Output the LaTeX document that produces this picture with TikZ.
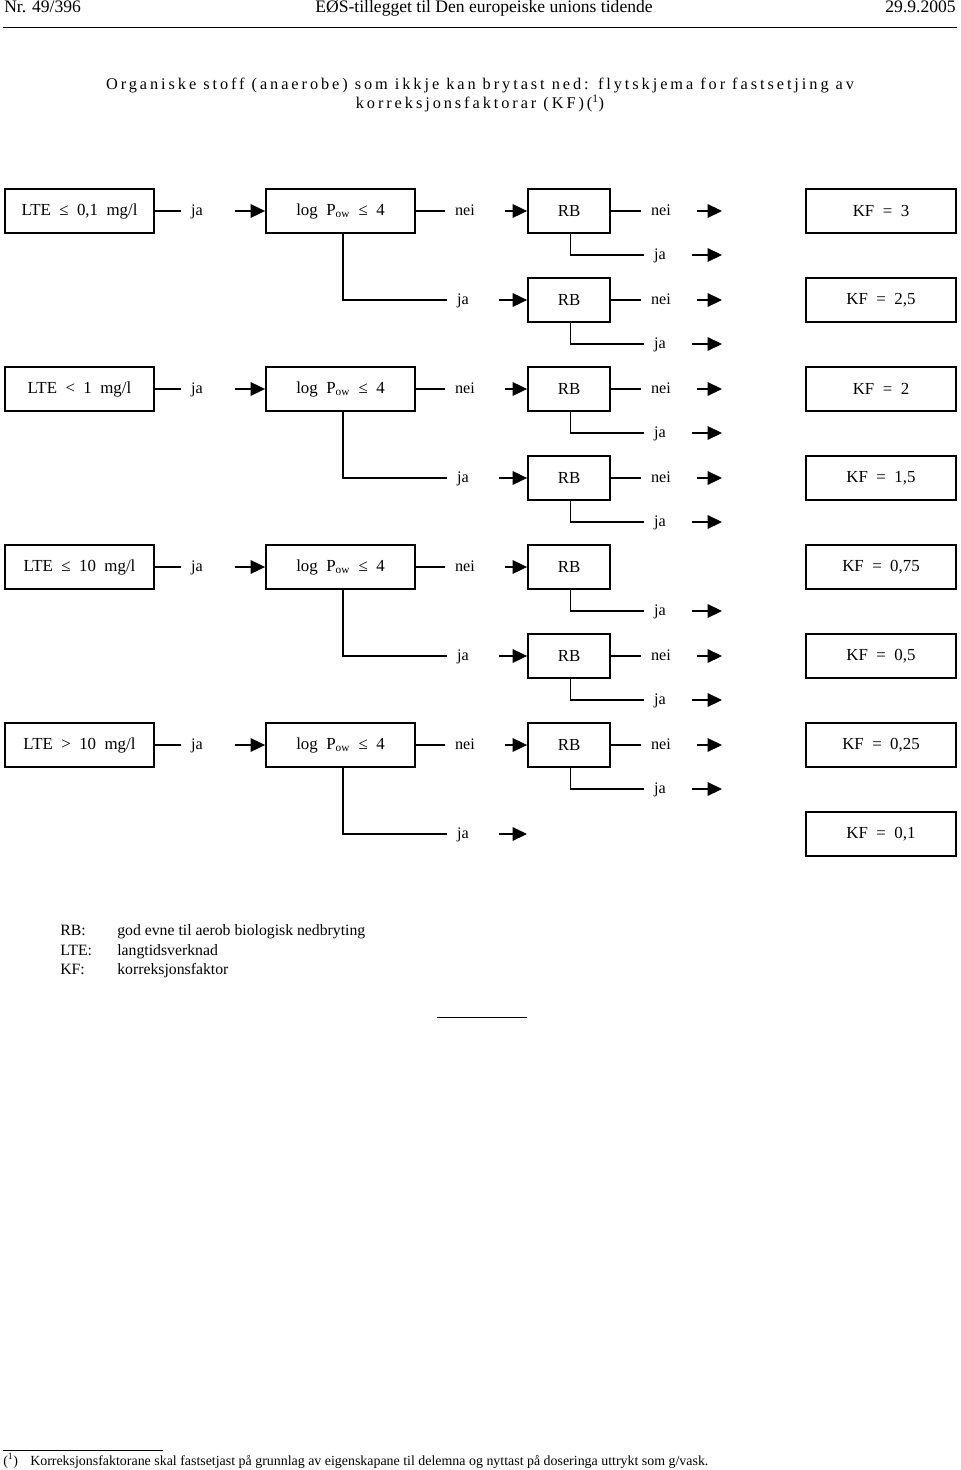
\documentclass[tikz,border=0pt]{standalone}
\usepackage{fontspec}
\setmainfont{Liberation Serif}
\usepackage{tikz}
\usetikzlibrary{arrows.meta, positioning}

\begin{document}
\begin{tikzpicture}[
  x=0.025cm, y=-0.025cm,
  box/.style={rectangle, draw, line width=1.3pt, minimum width=3.725cm,
              minimum height=1.1cm, inner sep=0pt, font=\fontsize{12}{14}\selectfont},
  rbbox/.style={box, minimum width=2.05cm},
  kfbox/.style={box, minimum width=3.75cm},
  lbl/.style={inner xsep=0.25cm, inner ysep=0pt, text height=1.4ex, text depth=0pt,
              font=\fontsize{11.5}{13}\selectfont},
  line/.style={line width=0.9pt},
  arr/.style={line width=0.9pt, -{Triangle[length=3.6mm, width=3.4mm]}},
  txt/.style={inner sep=0pt, anchor=base west}
]
  \useasboundingbox (0,0) rectangle (960,1470);

  % page head
  \node[txt] (nr) at (4,13) {\fontsize{12.5}{14}\selectfont Nr. 49/396};
  \node[inner sep=0pt, anchor=base] (head) at (484,13) {\fontsize{12.5}{14}\selectfont EØS-tillegget til Den europeiske unions tidende};
  \node[inner sep=0pt, anchor=base east] (date) at (956,13) {\fontsize{12.5}{14}\selectfont 29.9.2005};
  \draw[line width=0.6pt] (3,27) -- (957,27);

  % title
  \node[inner sep=0pt, align=center, font=\fontsize{11.6}{14}\selectfont\addfontfeature{LetterSpace=18}]
    (title) at (480,95) {Organiske stoff (anaerobe) som ikkje kan brytast ned: flytskjema for fastsetjing av\\
    korreksjonsfaktorar (KF)(\textsuperscript{1})};

  % LTE and log Pow tests
  \foreach \g/\yy/\lte in {1/211/{LTE~~≤~~0,1~~mg/l}, 2/389/{LTE~~<~~1~~mg/l},
                           3/567/{LTE~~≤~~10~~mg/l}, 4/745/{LTE~~>~~10~~mg/l}} {
    \node[box] (lte\g) at (79.5,\yy) {\lte};
    \node[lbl] (jaL\g) at (197,\yy) {ja};
    \node[box] (log\g) at (340.5,\yy) {log~~P\textsubscript{ow}~~≤~~4};
    \node[lbl] (neiP\g) at (465,\yy) {nei};
    \node[lbl] (jaP\g) at (463,\yy+89) {ja};
    \draw[line] (lte\g) -- (jaL\g);
    \draw[arr, shorten <=0.55cm] (jaL\g) -- (log\g);
    \draw[line] (log\g) -- (neiP\g);
    \draw[line] ([xshift=0.06cm]log\g.south) |- (jaP\g);
  }

  % RB tests
  \foreach \r [evaluate=\r as \yy using 211+(\r-1)*89] in {1,...,7} {
    \node[rbbox] (rb\r) at (569,\yy) {RB};
    \node[lbl] (jaR\r) at (660,\yy+44) {ja};
    \coordinate (endJ\r) at (722,\yy+44);
    \draw[line] ([xshift=0.03cm]rb\r.south) |- (jaR\r);
    \draw[arr, shorten <=0.4cm] (jaR\r) -- (endJ\r);
  }
  \foreach \r [evaluate=\r as \yy using 211+(\r-1)*89] in {1,2,3,4,6,7} {
    \node[lbl] (neiR\r) at (661,\yy) {nei};
    \coordinate (endN\r) at (722,\yy);
    \draw[line] (rb\r) -- (neiR\r);
    \draw[arr, shorten <=0.4cm] (neiR\r) -- (endN\r);
  }
  \draw[arr, shorten <=0.5cm] (neiP1) -- (rb1);
  \draw[arr, shorten <=0.5cm] (jaP1) -- (rb2);
  \draw[arr, shorten <=0.5cm] (neiP2) -- (rb3);
  \draw[arr, shorten <=0.5cm] (jaP2) -- (rb4);
  \draw[arr, shorten <=0.5cm] (neiP3) -- (rb5);
  \draw[arr, shorten <=0.5cm] (jaP3) -- (rb6);
  \draw[arr, shorten <=0.5cm] (neiP4) -- (rb7);
  \coordinate (endP4) at (527,834);
  \draw[arr, shorten <=0.5cm] (jaP4) -- (endP4);

  % correction factors
  \foreach \r/\kf in {1/3, 2/{2,5}, 3/2, 4/{1,5}, 5/{0,75}, 6/{0,5}, 7/{0,25}, 8/{0,1}} {
    \node[kfbox] (kf\r) at (881,{211+(\r-1)*89}) {KF~~=~~\kf};
  }

  % legend
  \node[txt] (kRB) at (60,935) {\fontsize{11.2}{13}\selectfont RB:};
  \node[txt] (kLTE) at (60,955) {\fontsize{11.2}{13}\selectfont LTE:};
  \node[txt] (kKF) at (60,974) {\fontsize{11.2}{13}\selectfont KF:};
  \node[txt] (tRB) at (117,935) {\fontsize{11.2}{13}\selectfont god evne til aerob biologisk nedbryting};
  \node[txt] (tLTE) at (117,955) {\fontsize{11.2}{13}\selectfont langtidsverknad};
  \node[txt] (tKF) at (117,974) {\fontsize{11.2}{13}\selectfont korreksjonsfaktor};
  \draw[line width=0.6pt] (437,1017) -- (527,1017);

  % footnote
  \draw[line width=0.6pt] (3,1450) -- (163,1450);
  \node[txt] (fnmark) at (3,1465) {\fontsize{9.9}{11}\selectfont (\textsuperscript{1})};
  \node[txt] (fntext) at (30,1465) {\fontsize{9.9}{11}\selectfont Korreksjonsfaktorane skal fastsetjast på grunnlag av eigenskapane til delemna og nyttast på doseringa uttrykt som g/vask.};
\end{tikzpicture}
\end{document}
